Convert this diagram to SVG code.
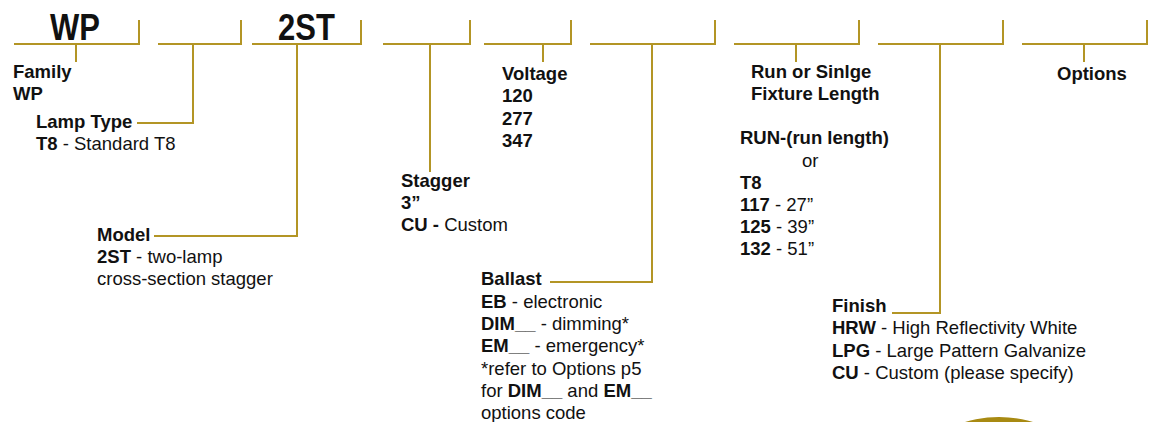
<svg xmlns="http://www.w3.org/2000/svg" width="1157" height="422" viewBox="0 0 1157 422">
<style>
.ln{fill:none;stroke:#B39525;stroke-width:2}
text{font-family:"Liberation Sans",Arial,sans-serif;font-size:18.5px;fill:#111}
.b{font-weight:bold}
.big{font-weight:bold;font-size:31px}
</style>
<rect width="1157" height="422" fill="#fff"/>
<g id="connectors">
<path class="ln" d="M14,44H139V20"/>
<path class="ln" d="M76,44V62"/>
<path class="ln" d="M158,44H241V20"/>
<path class="ln" d="M193,44V123H137"/>
<path class="ln" d="M252,44H361V20"/>
<path class="ln" d="M297,44V236H154"/>
<path class="ln" d="M383,44H470V20"/>
<path class="ln" d="M430,44V172"/>
<path class="ln" d="M484,44H571V20"/>
<path class="ln" d="M543,44V62"/>
<path class="ln" d="M590,44H715V20"/>
<path class="ln" d="M652,44V282H550"/>
<path class="ln" d="M734,44H859V20"/>
<path class="ln" d="M796,44V62"/>
<path class="ln" d="M878,44H1003V20"/>
<path class="ln" d="M940,44V313H892"/>
<path class="ln" d="M1022,44H1147V20"/>
<path class="ln" d="M1084,44V62"/>
</g>
<g id="code-WP"><text class="big" x="50" y="40" transform="translate(0,40) scale(1,1.22) translate(0,-40)">WP</text></g>
<g id="code-2ST"><text class="big" x="278" y="40" transform="translate(0,40) scale(1,1.22) translate(0,-40)">2ST</text></g>
<g id="family"><text class="b" x="13" y="78">Family</text><text class="b" x="13" y="100">WP</text></g>
<g id="lamp"><text class="b" x="36" y="128">Lamp Type</text><text x="36" y="150"><tspan class="b">T8</tspan> - Standard T8</text></g>
<g id="model"><text class="b" x="97" y="241">Model</text><text x="97" y="263"><tspan class="b">2ST</tspan> - two-lamp</text><text x="97" y="285">cross-section stagger</text></g>
<g id="stagger"><text class="b" x="401" y="187">Stagger</text><text class="b" x="401" y="209">3”</text><text x="401" y="231"><tspan class="b">CU -</tspan> Custom</text></g>
<g id="voltage"><text class="b" x="502" y="80">Voltage</text><text class="b" x="502" y="102">120</text><text class="b" x="502" y="125">277</text><text class="b" x="502" y="147">347</text></g>
<g id="ballast"><text class="b" x="481" y="285">Ballast</text><text x="481" y="308"><tspan class="b">EB</tspan> - electronic</text><text x="481" y="330"><tspan class="b">DIM__</tspan> - dimming*</text><text x="481" y="352"><tspan class="b">EM__</tspan> - emergency*</text><text x="481" y="375">*refer to Options p5</text><text x="481" y="397">for <tspan class="b">DIM__</tspan> and <tspan class="b">EM__</tspan></text><text x="481" y="419">options code</text></g>
<g id="length"><text class="b" x="751" y="78">Run or Sinlge</text><text class="b" x="751" y="100">Fixture Length</text><text class="b" x="740" y="144">RUN-(run length)</text><text x="802" y="167">or</text><text class="b" x="740" y="189">T8</text><text x="740" y="211"><tspan class="b">117</tspan> - 27”</text><text x="740" y="233"><tspan class="b">125</tspan> - 39”</text><text x="740" y="255"><tspan class="b">132</tspan> - 51”</text></g>
<g id="finish"><text class="b" x="832" y="312">Finish</text><text x="832" y="334"><tspan class="b">HRW</tspan> - High Reflectivity White</text><text x="832" y="357"><tspan class="b">LPG</tspan> - Large Pattern Galvanize</text><text x="832" y="379"><tspan class="b">CU</tspan> - Custom (please specify)</text></g>
<g id="options"><text class="b" x="1057" y="80">Options</text></g>
<circle cx="999" cy="535" r="118" fill="#A88A12"/>
</svg>
